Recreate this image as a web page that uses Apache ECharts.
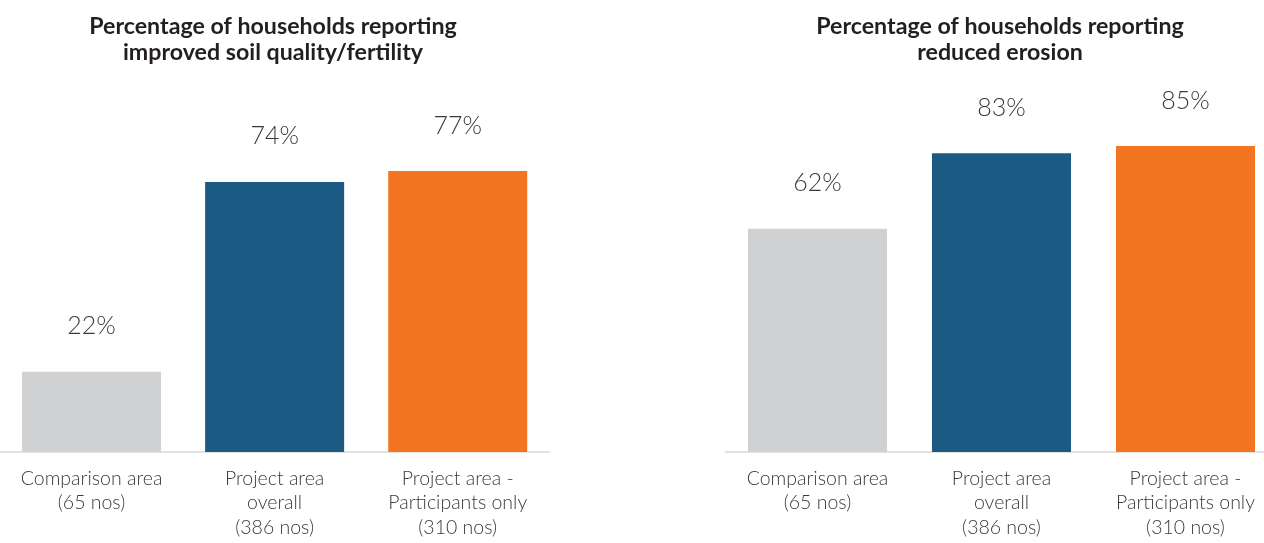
<!DOCTYPE html>
<html>
<head>
<meta charset="utf-8">
<script src="https://cdn.jsdelivr.net/npm/echarts@6/dist/echarts.min.js"></script>
<style>
html,body{margin:0;padding:0;background:#fff;overflow:hidden;}
#c{width:1300px;height:543px;}
</style>
</head>
<body>
<div id="c"></div>
<script>
const categories = ['Comparison area\n(65 nos)', 'Project area\noverall\n(386 nos)', 'Project area -\nParticipants only\n(310 nos)'];
const soilValues = [22, 74, 77];
const erosionValues = [62, 83, 85];
const titleSoil = 'Percentage of households reporting\nimproved soil quality/fertility';
const titleErosion = 'Percentage of households reporting\nreduced erosion';
const barColors = ['#D0D1D3', '#1B5A82', '#F37421'];

const FONT = 'Lato';
const chart = echarts.init(document.getElementById('c'), null, {renderer: 'canvas'});

function xAxis(gi) {
  return {
    type: 'category', gridIndex: gi, data: categories,
    axisLine: {show: true, lineStyle: {color: '#D9D9D9', width: 1.5}},
    axisTick: {show: false},
    axisLabel: {color: '#3a3a3a', fontFamily: FONT, fontWeight: 300, fontSize: 19.5, lineHeight: 24.5, margin: 14, interval: 0}
  };
}
function yAxis(gi) {
  return {type: 'value', gridIndex: gi, min: 0, max: 100, show: false, splitLine: {show: false}};
}
function series(gi, vals) {
  return {
    type: 'bar', xAxisIndex: gi, yAxisIndex: gi, barWidth: 139,
    data: vals.map((v, i) => ({value: v, itemStyle: {color: barColors[i]}})),
    label: {show: true, position: 'top', distance: 33, formatter: '{c}%', color: '#3a3a3a',
      fontFamily: FONT, fontWeight: 300, fontSize: 25},
    silent: true, animation: false
  };
}
chart.setOption({
  backgroundColor: '#fff',
  animation: false,
  title: [
    {text: titleSoil, left: 268, top: 8, textAlign: 'center',
      textStyle: {fontFamily: FONT, fontWeight: 'bold', fontSize: 23.2, lineHeight: 26.5, color: '#231F20'}},
    {text: titleErosion, left: 995, top: 8, textAlign: 'center',
      textStyle: {fontFamily: FONT, fontWeight: 'bold', fontSize: 23.2, lineHeight: 26.5, color: '#231F20'}}
  ],
  grid: [
    {left: -1.25, width: 550.5, top: 87, height: 365, containLabel: false},
    {left: 725.5, width: 552, top: 92, height: 360, containLabel: false}
  ],
  xAxis: [xAxis(0), xAxis(1)],
  yAxis: [yAxis(0), yAxis(1)],
  series: [series(0, soilValues), series(1, erosionValues)]
});
</script>
</body>
</html>
